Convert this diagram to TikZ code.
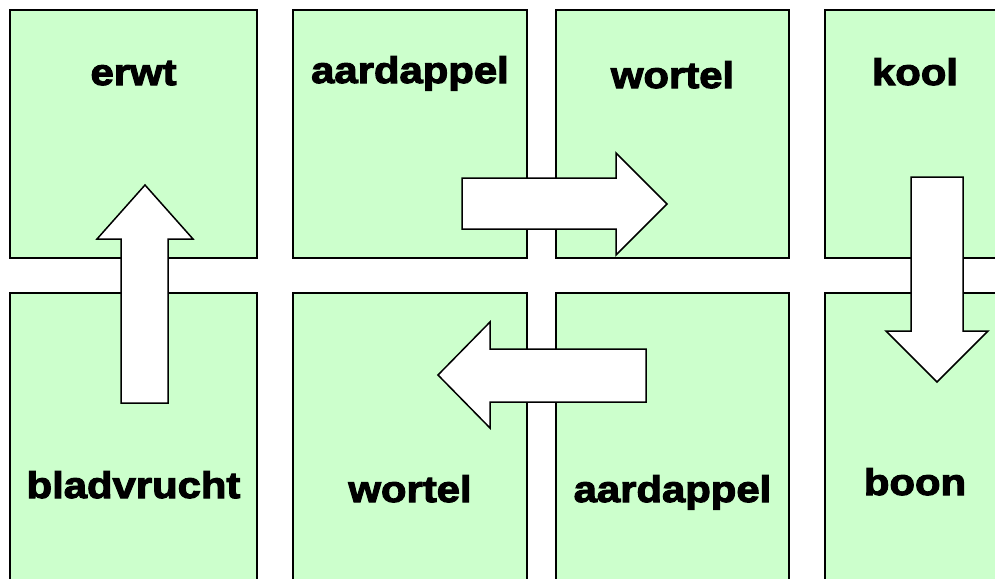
\documentclass[tikz,border=0pt]{standalone}
\usepackage{fontspec}
\newfontfamily\labfont[FakeStretch=1.13,FakeBold=3]{Liberation Sans}
\definecolor{boxgreen}{HTML}{CCFFCC}
\tikzset{
  box/.style={draw=black, line width=2pt, fill=boxgreen},
  blockarrow/.style={draw=black, line width=1.5pt, fill=white, line join=miter},
  lab/.style={anchor=base, inner sep=0pt, font=\labfont\bfseries\fontsize{37}{40}\selectfont},
}
\begin{document}
\begin{tikzpicture}[x=1pt,y=-1pt]
\useasboundingbox (0,0) rectangle (995,578);
\clip (0,0) rectangle (995,578);
\fill[white] (0,0) rectangle (995,578);
% top row
\draw[box] (10,10) rectangle (257,258);
\draw[box] (293,10) rectangle (527,258);
\draw[box] (556,10) rectangle (789,258);
\draw[box] (825,10) rectangle (1010,258);
% bottom row
\draw[box] (10,293) rectangle (257,620);
\draw[box] (293,293) rectangle (527,620);
\draw[box] (556,293) rectangle (789,620);
\draw[box] (825,293) rectangle (1010,620);
% labels
\node[lab] (t1) at (133.5,85) {erwt};
\node[lab] (t2) at (410,83) {aardappel};
\node[lab] (t3) at (672.5,88) {wortel};
\node[lab] (t4) at (915,85) {kool};
\node[lab] (t5) at (133.5,498) {bladvrucht};
\node[lab] (t6) at (410,502) {wortel};
\node[lab] (t7) at (672.5,502) {aardappel};
\node[lab] (t8) at (915,495) {boon};
% block arrows
\draw[blockarrow] (121,403) -- (121,239) -- (97,239) -- (145,185) -- (193,239) -- (168,239) -- (168,403) -- cycle;
\draw[blockarrow] (462,178) -- (616,178) -- (616,153) -- (667,204) -- (616,255) -- (616,229) -- (462,229) -- cycle;
\draw[blockarrow] (911,177) -- (963,177) -- (963,331) -- (988,331) -- (937,382) -- (886,331) -- (911,331) -- cycle;
\draw[blockarrow] (646,349) -- (490,349) -- (490,322) -- (438,375) -- (490,428) -- (490,402) -- (646,402) -- cycle;
\end{tikzpicture}
\end{document}
